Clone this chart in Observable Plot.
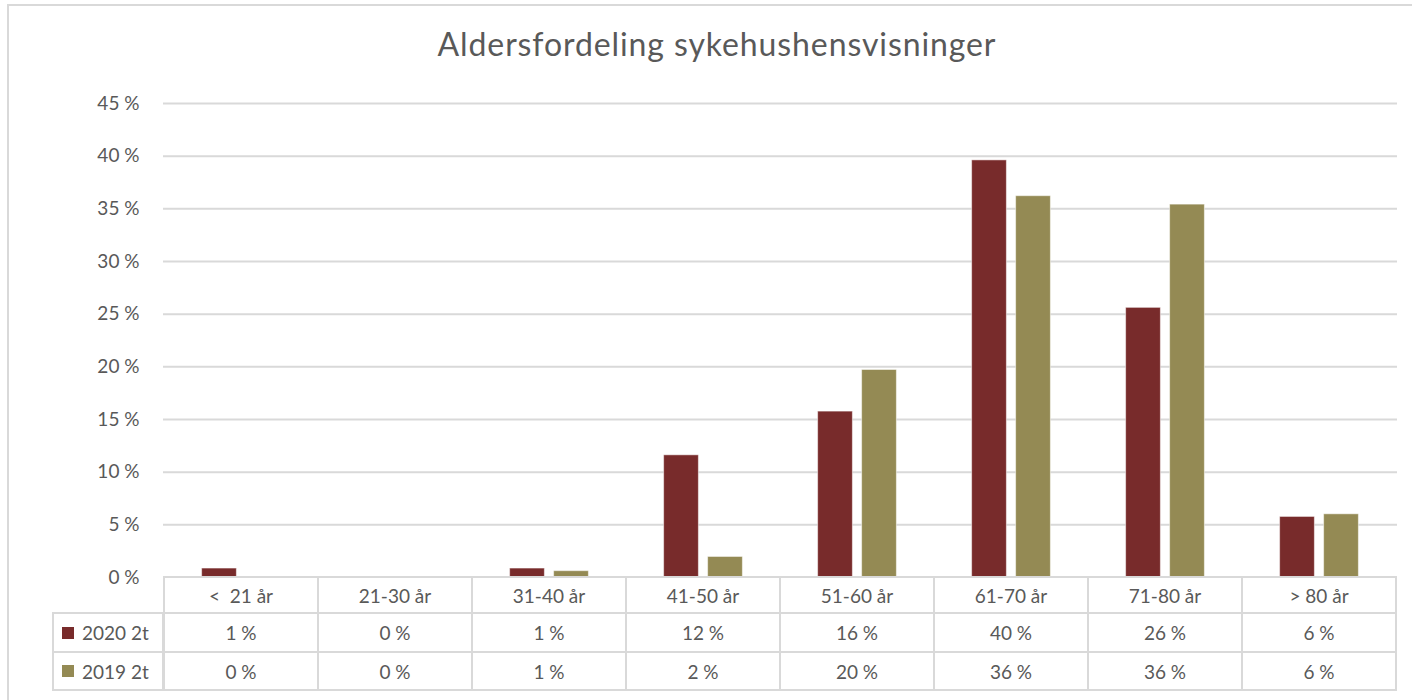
<!DOCTYPE html>
<html>
<head>
<meta charset="utf-8">
<script src="https://cdn.jsdelivr.net/npm/d3@7"></script>
<script src="https://cdn.jsdelivr.net/npm/@observablehq/plot@0.6"></script>
<style>
  html, body { margin: 0; padding: 0; background: #fff; overflow: hidden; }
  #wrap { position: relative; width: 1412px; height: 700px; overflow: hidden; font-family: Lato, "Open Sans", sans-serif; color: #595959; }
  #frame { position: absolute; left: 7px; top: 4px; width: 1450px; height: 760px; border: 2px solid #d9d9d9; box-sizing: border-box; }
  #title { position: absolute; left: 0; top: 28px; width: 1434px; text-align: center; font-size: 32px; letter-spacing: 0.9px; line-height: 32px; color: #595959; }
  #chart { position: absolute; left: 0; top: 0; }
  .cell { position: absolute; box-sizing: border-box; border: 2px solid #d9d9d9; display: flex; align-items: center; justify-content: center; font-size: 19px; white-space: pre; color: #595959; }
  .lab { justify-content: flex-start; padding-left: 8px; }
  .sw { display: inline-block; width: 12px; height: 12px; margin-right: 8px; }
</style>
</head>
<body>
<div id="wrap">
  <div id="frame"></div>
  <div id="title">Aldersfordeling sykehushensvisninger</div>
  <div id="chart"></div>
</div>
<script>
// ---- data ----
const categories = ["<  21 år", "21-30 år", "31-40 år", "41-50 år", "51-60 år", "61-70 år", "71-80 år", "> 80 år"];
const seriesNames = ["2020 2t", "2019 2t"];
const values2020 = [0.85, 0, 0.85, 11.6, 15.75, 39.6, 25.6, 5.75];
const values2019 = [0, 0, 0.6, 1.95, 19.7, 36.2, 35.4, 6.0];
const table2020 = ["1 %", "0 %", "1 %", "12 %", "16 %", "40 %", "26 %", "6 %"];
const table2019 = ["0 %", "0 %", "1 %", "2 %", "20 %", "36 %", "36 %", "6 %"];
const yTicks = [0, 5, 10, 15, 20, 25, 30, 35, 40, 45];
const colors = ["#782B2B", "#948A54"];

// ---- layout ----
const W = 1412, H = 600;
const mL = 163, mR = 15, mT = 103, mB = 23;
const bw = (W - mL - mR) / categories.length;
const barW = 35, gap = 9;
const innerL = bw / 2 - gap / 2 - barW;      // left inset of first bar
const innerR = bw - innerL - barW;

const rows = categories.map((c, i) => ({cat: c, v2020: values2020[i], v2019: values2019[i]}));

const plot = Plot.plot({
  width: W, height: H,
  marginLeft: mL, marginRight: mR, marginTop: mT, marginBottom: mB,
  style: {fontFamily: "Lato, 'Open Sans', sans-serif", fontSize: "19px", color: "#595959", background: "transparent"},
  x: {domain: categories, padding: 0, axis: null},
  y: {domain: [0, 45], ticks: yTicks, tickFormat: d => d + " %", tickSize: 0, tickPadding: 24, label: null},
  marks: [
    Plot.ruleY(yTicks.filter(d => d > 0), {stroke: "#d9d9d9", strokeWidth: 2}),
    Plot.barY(rows, {x: "cat", y: "v2020", fill: colors[0], insetLeft: innerL, insetRight: innerR, stroke: "#fff", strokeOpacity: 0.5, strokeWidth: 1}),
    Plot.barY(rows, {x: "cat", y: "v2019", fill: colors[1], insetLeft: innerR, insetRight: innerL, stroke: "#fff", strokeOpacity: 0.5, strokeWidth: 1})
  ]
});
document.getElementById("chart").appendChild(plot);

// ---- data table below the plot ----
const xs = plot.scale("x");
const wrap = document.getElementById("wrap");
const rowTops = [577, 613, 652, 690];
function cell(x0, x1, r, html, cls) {
  const d = document.createElement("div");
  d.className = "cell" + (cls ? " " + cls : "");
  d.style.left = (x0 - 1) + "px";
  d.style.width = (x1 - x0 + 2) + "px";
  d.style.top = (rowTops[r] - 1) + "px";
  d.style.height = (rowTops[r + 1] - rowTops[r] + 2) + "px";
  d.innerHTML = html;
  wrap.appendChild(d);
}
categories.forEach((c, i) => {
  const x0 = xs.apply(c), x1 = x0 + xs.bandwidth;
  cell(x0, x1, 0, c);
  cell(x0, x1, 1, table2020[i]);
  cell(x0, x1, 2, table2019[i]);
});
cell(53, mL, 1, `<span class="sw" style="background:${colors[0]}"></span>${seriesNames[0]}`, "lab");
cell(53, mL, 2, `<span class="sw" style="background:${colors[1]}"></span>${seriesNames[1]}`, "lab");
</script>
</body>
</html>
